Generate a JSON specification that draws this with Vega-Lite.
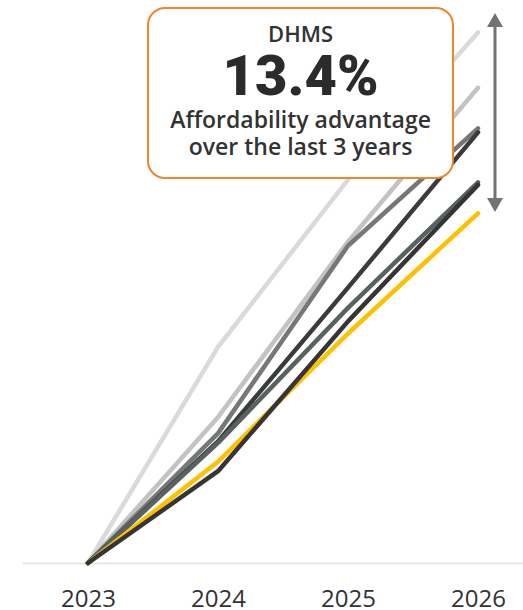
{
  "$schema": "https://vega.github.io/schema/vega-lite/v6.json",
  "autosize": "none",
  "width": 501,
  "height": 563,
  "padding": {"left": 22, "top": 0, "right": 0, "bottom": 47},
  "background": "white",
  "config": {"view": {"stroke": null}},
  "datasets": {
    "lines": [
      {"year": 2023, "value": 0, "series": "A"},
      {"year": 2024, "value": 16.0, "series": "A"},
      {"year": 2025, "value": 28.4, "series": "A"},
      {"year": 2026, "value": 39.3, "series": "A"},
      {"year": 2023, "value": 0, "series": "B"},
      {"year": 2024, "value": 10.8, "series": "B"},
      {"year": 2025, "value": 23.8, "series": "B"},
      {"year": 2026, "value": 35.2, "series": "B"},
      {"year": 2023, "value": 0, "series": "C"},
      {"year": 2024, "value": 9.6, "series": "C"},
      {"year": 2025, "value": 23.5, "series": "C"},
      {"year": 2026, "value": 32.2, "series": "C"},
      {"year": 2023, "value": 0, "series": "D"},
      {"year": 2024, "value": 9.0, "series": "D"},
      {"year": 2025, "value": 20.4, "series": "D"},
      {"year": 2026, "value": 31.9, "series": "D"},
      {"year": 2023, "value": 0, "series": "E"},
      {"year": 2024, "value": 8.9, "series": "E"},
      {"year": 2025, "value": 18.9, "series": "E"},
      {"year": 2026, "value": 28.2, "series": "E"},
      {"year": 2023, "value": 0, "series": "DHMS"},
      {"year": 2024, "value": 7.5, "series": "DHMS"},
      {"year": 2025, "value": 17.0, "series": "DHMS"},
      {"year": 2026, "value": 25.9, "series": "DHMS"},
      {"year": 2023, "value": 0, "series": "F"},
      {"year": 2024, "value": 6.8, "series": "F"},
      {"year": 2025, "value": 17.9, "series": "F"},
      {"year": 2026, "value": 28.0, "series": "F"}
    ],
    "box": [{"x1": 2023.4615, "x2": 2025.8077, "y1": 41.11, "y2": 28.52}],
    "label": [{"x": 2024.635, "y": 38.61, "text": "DHMS"}],
    "big": [{"x": 2024.635, "y": 34.67, "text": "13.4%"}],
    "desc": [
      {"x": 2024.635, "y": 32.2, "text": "Affordability advantage"},
      {"x": 2024.635, "y": 30.22, "text": "over the last 3 years"}
    ],
    "arrow": [{"x": 2026.1308, "y1": 40.22, "y2": 26.52}],
    "heads": [
      {"x": 2026.1308, "y": 40.22, "dir": "up"},
      {"x": 2026.1308, "y": 26.52, "dir": "down"}
    ]
  },
  "layer": [
    {
      "data": {"name": "lines"},
      "mark": {"type": "line", "strokeWidth": 4.5, "strokeCap": "round", "strokeJoin": "round"},
      "encoding": {
        "x": {
          "field": "year",
          "type": "quantitative",
          "scale": {"domain": [2022.4923, 2026.3462], "nice": false, "zero": false},
          "axis": {
            "values": [2023, 2024, 2025, 2026],
            "format": "d",
            "title": null,
            "grid": false,
            "ticks": false,
            "labelFont": "Open Sans",
            "labelFontSize": 24,
            "labelColor": "#333333",
            "labelPadding": 24,
            "domainColor": "#dde0e0",
            "domainWidth": 1.5
          }
        },
        "y": {
          "field": "value",
          "type": "quantitative",
          "scale": {"domain": [0, 41.7037], "nice": false},
          "axis": null
        },
        "color": {
          "field": "series",
          "type": "nominal",
          "scale": {
            "domain": ["A", "B", "C", "D", "E", "DHMS", "F"],
            "range": ["#dadada", "#c3c3c3", "#777777", "#3b3b3b", "#5a6163", "#ffc000", "#353535"]
          },
          "legend": null
        }
      }
    },
    {
      "data": {"name": "box"},
      "mark": {"type": "rect", "cornerRadius": 17, "fill": "white", "stroke": "#f0862a", "strokeWidth": 2},
      "encoding": {
        "x": {"field": "x1", "type": "quantitative"},
        "x2": {"field": "x2"},
        "y": {"field": "y1", "type": "quantitative"},
        "y2": {"field": "y2"}
      }
    },
    {
      "data": {"name": "label"},
      "mark": {"type": "text", "font": "Open Sans", "fontSize": 22, "fontWeight": 600, "color": "#333333", "align": "center", "baseline": "alphabetic"},
      "encoding": {
        "x": {"field": "x", "type": "quantitative"},
        "y": {"field": "y", "type": "quantitative"},
        "text": {"field": "text"}
      }
    },
    {
      "data": {"name": "big"},
      "mark": {"type": "text", "font": "Roboto", "fontSize": 56, "fontWeight": 900, "color": "#2a2b2d", "align": "center", "baseline": "alphabetic"},
      "encoding": {
        "x": {"field": "x", "type": "quantitative"},
        "y": {"field": "y", "type": "quantitative"},
        "text": {"field": "text"}
      }
    },
    {
      "data": {"name": "desc"},
      "mark": {"type": "text", "font": "Open Sans", "fontSize": 23, "fontWeight": 600, "color": "#333333", "align": "center", "baseline": "alphabetic"},
      "encoding": {
        "x": {"field": "x", "type": "quantitative"},
        "y": {"field": "y", "type": "quantitative"},
        "text": {"field": "text"}
      }
    },
    {
      "data": {"name": "arrow"},
      "mark": {"type": "rule", "color": "#737373", "strokeWidth": 3},
      "encoding": {
        "x": {"field": "x", "type": "quantitative"},
        "y": {"field": "y1", "type": "quantitative"},
        "y2": {"field": "y2"}
      }
    },
    {
      "data": {"name": "heads"},
      "mark": {"type": "point", "filled": true, "color": "#737373", "opacity": 1, "size": 256},
      "encoding": {
        "x": {"field": "x", "type": "quantitative"},
        "y": {"field": "y", "type": "quantitative"},
        "shape": {
          "field": "dir",
          "type": "nominal",
          "scale": {"domain": ["up", "down"], "range": ["triangle-up", "triangle-down"]},
          "legend": null
        }
      }
    }
  ]
}
